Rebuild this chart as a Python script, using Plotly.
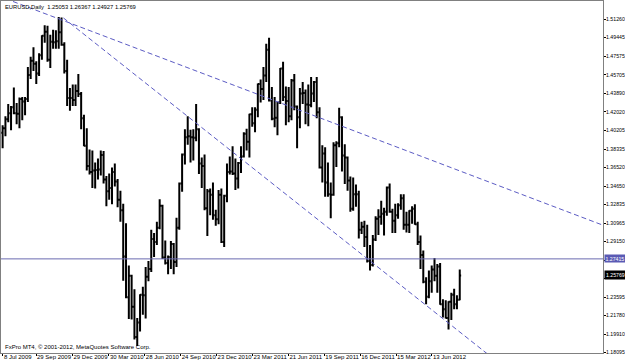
import pandas as pd
import plotly.graph_objects as go

# ---------------- data (weekly EURUSD bars) ----------------
first_week = "2009-07-08 12:00"   # Wednesday of the first week shown

week_open = [
    1.3995, 1.4040, 1.4130, 1.4190, 1.4250, 1.4190, 1.4185, 1.4330, 1.4305, 1.4330,
    1.4570, 1.4710, 1.4680, 1.4585, 1.4765, 1.4960, 1.5000, 1.4720, 1.4900, 1.4895,
    1.4905, 1.4995, 1.4870, 1.4610, 1.4340, 1.4340, 1.4320, 1.4410, 1.4380, 1.4140,
    1.3865, 1.3665, 1.3605, 1.3620, 1.3625, 1.3630, 1.3775, 1.3530, 1.3415, 1.3445,
    1.3605, 1.3510, 1.3330, 1.3225, 1.2765, 1.2360, 1.2575, 1.2265, 1.1965, 1.2110,
    1.2385, 1.2380, 1.2565, 1.2640, 1.2940, 1.2910, 1.3050, 1.3270, 1.2755, 1.2700,
    1.2760, 1.2890, 1.2710, 1.3050, 1.3490, 1.3780, 1.3950, 1.3960, 1.3950, 1.3945,
    1.4030, 1.3690, 1.3665, 1.3245, 1.3415, 1.3380, 1.3175, 1.3135, 1.3380, 1.2910,
    1.3370, 1.3605, 1.3610, 1.3590, 1.3540, 1.3695, 1.3760, 1.3985, 1.3905, 1.4180,
    1.4090, 1.4225, 1.4480, 1.4430, 1.4565, 1.4820, 1.4315, 1.4135, 1.4145, 1.4295,
    1.4635, 1.4350, 1.4310, 1.4160, 1.4515, 1.4255, 1.4150, 1.4385, 1.4390, 1.4275,
    1.4270, 1.4385, 1.4500, 1.4200, 1.3650, 1.3790, 1.3500, 1.3385, 1.3380, 1.3870,
    1.3890, 1.4150, 1.3770, 1.3750, 1.3520, 1.3240, 1.3385, 1.3385, 1.3030, 1.3060,
    1.2960, 1.2720, 1.2680, 1.2935, 1.3140, 1.3160, 1.3190, 1.3210, 1.3450, 1.3210,
    1.3120, 1.3175, 1.3275, 1.3345, 1.3080, 1.3080, 1.3220, 1.3240, 1.3085, 1.2910,
    1.2780, 1.2515, 1.2365, 1.2520, 1.2635, 1.2575, 1.2665, 1.2290, 1.2240, 1.2155,
    1.2315, 1.2385, 1.2290, 1.2335,
]
week_high = [
    1.4070, 1.4160, 1.4280, 1.4260, 1.4445, 1.4290, 1.4345, 1.4350, 1.4350, 1.4650,
    1.4750, 1.4845, 1.4705, 1.4785, 1.4965, 1.5065, 1.5060, 1.4970, 1.5020, 1.5015,
    1.5145, 1.5140, 1.4895, 1.4720, 1.4440, 1.4475, 1.4475, 1.4580, 1.4400, 1.4175,
    1.4040, 1.3830, 1.3820, 1.3700, 1.3740, 1.3820, 1.3815, 1.3565, 1.3590, 1.3650,
    1.3690, 1.3535, 1.3420, 1.3290, 1.3095, 1.2675, 1.2585, 1.2440, 1.2155, 1.2390,
    1.2465, 1.2660, 1.2720, 1.3030, 1.3000, 1.3110, 1.3335, 1.3280, 1.2925, 1.2775,
    1.2920, 1.2900, 1.3150, 1.3500, 1.3790, 1.4030, 1.4160, 1.4025, 1.4030, 1.4282,
    1.4040, 1.3750, 1.3780, 1.3435, 1.3440, 1.3500, 1.3230, 1.3425, 1.3440, 1.3380,
    1.3690, 1.3760, 1.3860, 1.3740, 1.3705, 1.3860, 1.4000, 1.4035, 1.4185, 1.4250,
    1.4250, 1.4485, 1.4525, 1.4650, 1.4880, 1.4940, 1.4450, 1.4350, 1.4300, 1.4640,
    1.4700, 1.4455, 1.4450, 1.4530, 1.4580, 1.4265, 1.4440, 1.4500, 1.4425, 1.4475,
    1.4550, 1.4510, 1.4550, 1.4250, 1.3870, 1.3850, 1.3700, 1.3500, 1.3900, 1.3910,
    1.4245, 1.4160, 1.3880, 1.3760, 1.3560, 1.3550, 1.3480, 1.3420, 1.3110, 1.3120,
    1.3080, 1.2880, 1.2980, 1.3165, 1.3235, 1.3320, 1.3250, 1.3460, 1.3490, 1.3240,
    1.3290, 1.3295, 1.3385, 1.3385, 1.3210, 1.3225, 1.3265, 1.3285, 1.3110, 1.2975,
    1.2825, 1.2560, 1.2625, 1.2675, 1.2750, 1.2690, 1.2700, 1.2340, 1.2330, 1.2320,
    1.2405, 1.2445, 1.2380, 1.2637,
]
week_low = [
    1.3840, 1.3960, 1.4100, 1.4020, 1.4180, 1.4080, 1.4040, 1.4120, 1.4170, 1.4300,
    1.4530, 1.4610, 1.4480, 1.4560, 1.4720, 1.4890, 1.4700, 1.4640, 1.4830, 1.4830,
    1.4830, 1.4860, 1.4585, 1.4260, 1.4215, 1.4260, 1.4260, 1.4350, 1.4030, 1.3860,
    1.3620, 1.3580, 1.3445, 1.3440, 1.3530, 1.3570, 1.3490, 1.3265, 1.3330, 1.3285,
    1.3460, 1.3255, 1.3110, 1.2525, 1.2350, 1.2145, 1.2140, 1.1940, 1.1875, 1.2020,
    1.2185, 1.2150, 1.2520, 1.2610, 1.2760, 1.2880, 1.3035, 1.2740, 1.2685, 1.2590,
    1.2640, 1.2590, 1.2660, 1.3030, 1.3410, 1.3680, 1.3875, 1.3700, 1.3720, 1.3910,
    1.3585, 1.3445, 1.3225, 1.2970, 1.3175, 1.3130, 1.3070, 1.3085, 1.2900, 1.2860,
    1.3305, 1.3580, 1.3575, 1.3425, 1.3440, 1.3595, 1.3750, 1.3820, 1.3750, 1.4055,
    1.4000, 1.4150, 1.4295, 1.4320, 1.4500, 1.4305, 1.4120, 1.4050, 1.3970, 1.4280,
    1.4310, 1.4070, 1.4100, 1.4120, 1.4220, 1.3840, 1.4040, 1.4280, 1.4080, 1.4060,
    1.4250, 1.4300, 1.4140, 1.3640, 1.3500, 1.3360, 1.3360, 1.3145, 1.3370, 1.3655,
    1.3850, 1.3610, 1.3485, 1.3420, 1.3210, 1.3220, 1.3260, 1.2945, 1.2990, 1.2860,
    1.2705, 1.2625, 1.2665, 1.2920, 1.2980, 1.3080, 1.2975, 1.3170, 1.3200, 1.3000,
    1.3000, 1.3140, 1.3230, 1.3030, 1.3005, 1.3000, 1.3090, 1.3080, 1.2880, 1.2640,
    1.2500, 1.2290, 1.2350, 1.2405, 1.2520, 1.2405, 1.2285, 1.2160, 1.2150, 1.2040,
    1.2135, 1.2240, 1.2240, 1.2330,
]
week_close = [
    1.4040, 1.4130, 1.4190, 1.4250, 1.4190, 1.4185, 1.4330, 1.4305, 1.4330, 1.4570,
    1.4710, 1.4680, 1.4585, 1.4765, 1.4960, 1.5000, 1.4720, 1.4900, 1.4895, 1.4905,
    1.4995, 1.4870, 1.4610, 1.4340, 1.4340, 1.4320, 1.4410, 1.4380, 1.4140, 1.3865,
    1.3665, 1.3605, 1.3620, 1.3625, 1.3630, 1.3775, 1.3530, 1.3415, 1.3445, 1.3605,
    1.3510, 1.3330, 1.3225, 1.2765, 1.2360, 1.2575, 1.2265, 1.1965, 1.2110, 1.2385,
    1.2380, 1.2565, 1.2640, 1.2940, 1.2910, 1.3050, 1.3270, 1.2755, 1.2700, 1.2760,
    1.2890, 1.2710, 1.3050, 1.3490, 1.3780, 1.3950, 1.3960, 1.3950, 1.3945, 1.4030,
    1.3690, 1.3665, 1.3245, 1.3415, 1.3380, 1.3175, 1.3135, 1.3380, 1.2910, 1.3370,
    1.3605, 1.3610, 1.3590, 1.3540, 1.3695, 1.3760, 1.3985, 1.3905, 1.4180, 1.4090,
    1.4225, 1.4480, 1.4430, 1.4565, 1.4820, 1.4315, 1.4135, 1.4145, 1.4295, 1.4635,
    1.4350, 1.4310, 1.4160, 1.4515, 1.4255, 1.4150, 1.4385, 1.4390, 1.4275, 1.4270,
    1.4385, 1.4500, 1.4200, 1.3650, 1.3790, 1.3500, 1.3385, 1.3380, 1.3870, 1.3890,
    1.4150, 1.3770, 1.3750, 1.3520, 1.3240, 1.3385, 1.3385, 1.3030, 1.3060, 1.2960,
    1.2720, 1.2680, 1.2935, 1.3140, 1.3160, 1.3190, 1.3210, 1.3450, 1.3210, 1.3120,
    1.3175, 1.3275, 1.3345, 1.3080, 1.3080, 1.3220, 1.3240, 1.3085, 1.2910, 1.2780,
    1.2515, 1.2365, 1.2520, 1.2635, 1.2575, 1.2665, 1.2290, 1.2240, 1.2155, 1.2315,
    1.2385, 1.2290, 1.2335, 1.25769,
]

symbol = "EURUSD,Daily"
last_bar = [1.25053, 1.26367, 1.24927, 1.25769]   # O H L C of the current daily bar
hline_price = 1.27415

# trend lines (two anchor points each, date / price)
trend_a_x = ["2009-08-03", "2013-08-13"]
trend_a_y = [1.5300, 1.3078]
trend_b_x = ["2009-12-07", "2012-11-09"]
trend_b_y = [1.5136, 1.1761]

y_ticks = [1.51260, 1.49445, 1.47575, 1.45705, 1.43890, 1.42020, 1.40205, 1.38335,
           1.36520, 1.34650, 1.32835, 1.30965, 1.29150, 1.27280, 1.25465, 1.23595,
           1.21780, 1.19910, 1.18095]
y_hidden_ticks = [1.27280, 1.25465]   # labels covered by the price boxes
x_tick_dates = ["2009-07-08", "2009-09-29", "2009-12-29", "2010-03-30", "2010-06-28",
                "2010-09-24", "2010-12-23", "2011-03-23", "2011-06-21", "2011-09-19",
                "2011-12-16", "2012-03-15", "2012-06-13"]
x_tick_text = ["8 Jul 2009", "29 Sep 2009", "29 Dec 2009", "30 Mar 2010", "28 Jun 2010",
               "24 Sep 2010", "23 Dec 2010", "23 Mar 2011", "21 Jun 2011", "19 Sep 2011",
               "16 Dec 2011", "15 Mar 2012", "13 Jun 2012"]

# ---------------- figure ----------------
week_dates = pd.date_range(first_week, periods=len(week_close), freq="7D")

FONT = "Liberation Sans"
TL_COLOR = "#5c5cc4"
YSIZE = 5.2


def fmt(v):
    return f"{v:.5f}"


fig = go.Figure()
fig.add_trace(go.Ohlc(
    x=week_dates, open=week_open, high=week_high, low=week_low, close=week_close,
    increasing=dict(line=dict(color="black", width=2)),
    decreasing=dict(line=dict(color="black", width=2)),
    tickwidth=0.5, hoverinfo="skip", showlegend=False,
))
for tx, ty in ((trend_a_x, trend_a_y), (trend_b_x, trend_b_y)):
    fig.add_trace(go.Scatter(
        x=tx, y=ty, mode="lines", showlegend=False, hoverinfo="skip",
        line=dict(color=TL_COLOR, width=1, dash="5px,3px"),
    ))

fig.add_shape(type="line", xref="paper", x0=0, x1=1, yref="y", y0=hline_price, y1=hline_price,
              line=dict(color="#6a6ab0", width=1))

fig.add_annotation(xref="paper", x=1, xanchor="left", xshift=1, yref="y", y=hline_price,
                   text=fmt(hline_price), showarrow=False, bgcolor="#5a5ab4",
                   font=dict(family=FONT, size=YSIZE, color="white"), borderpad=0.5)
fig.add_annotation(xref="paper", x=1, xanchor="left", xshift=1, yref="y", y=last_bar[3],
                   text=fmt(last_bar[3]), showarrow=False, bgcolor="black",
                   font=dict(family=FONT, size=YSIZE, color="white"), borderpad=1)
fig.add_annotation(xref="paper", x=0, xanchor="left", xshift=2, yref="paper", y=1,
                   yanchor="top", yshift=-1,
                   text=symbol + "  " + " ".join(fmt(v) for v in last_bar),
                   showarrow=False, font=dict(family=FONT, size=5.8, color="black"))
fig.add_annotation(xref="paper", x=0, xanchor="left", xshift=2, yref="paper", y=0,
                   yanchor="bottom", yshift=1,
                   text="FxPro MT4, © 2001-2012, MetaQuotes Software Corp.",
                   showarrow=False, font=dict(family=FONT, size=6, color="black"))

fig.update_layout(
    width=625, height=364,
    margin=dict(l=1, r=22, t=1, b=11, pad=0),
    paper_bgcolor="white", plot_bgcolor="white",
    showlegend=False,
    font=dict(family=FONT, size=6, color="black"),
    xaxis=dict(
        type="date", range=["2009-07-02 14:24", "2013-08-13 21:36"],
        rangebreaks=[dict(bounds=["sat", "mon"])],
        rangeslider=dict(visible=False),
        tickvals=x_tick_dates, ticktext=x_tick_text, tickangle=0,
        ticklabelposition="outside right", ticklabelstandoff=-2,
        ticks="outside", ticklen=2, tickcolor="black", tickwidth=1,
        tickfont=dict(family=FONT, size=6, color="black"),
        showline=True, linecolor="#808080", linewidth=1, mirror=True,
        showgrid=False, zeroline=False, automargin=False,
    ),
    yaxis=dict(
        side="right", range=[1.18060, 1.53049],
        tickvals=y_ticks,
        ticktext=["" if v in y_hidden_ticks else fmt(v) for v in y_ticks],
        ticks="outside", ticklen=2, tickcolor="black", tickwidth=1,
        ticklabelstandoff=-1,
        tickfont=dict(family=FONT, size=YSIZE, color="black"),
        showline=True, linecolor="#808080", linewidth=1, mirror=True,
        showgrid=False, zeroline=False, automargin=False,
    ),
)

fig.write_html("out.html")
